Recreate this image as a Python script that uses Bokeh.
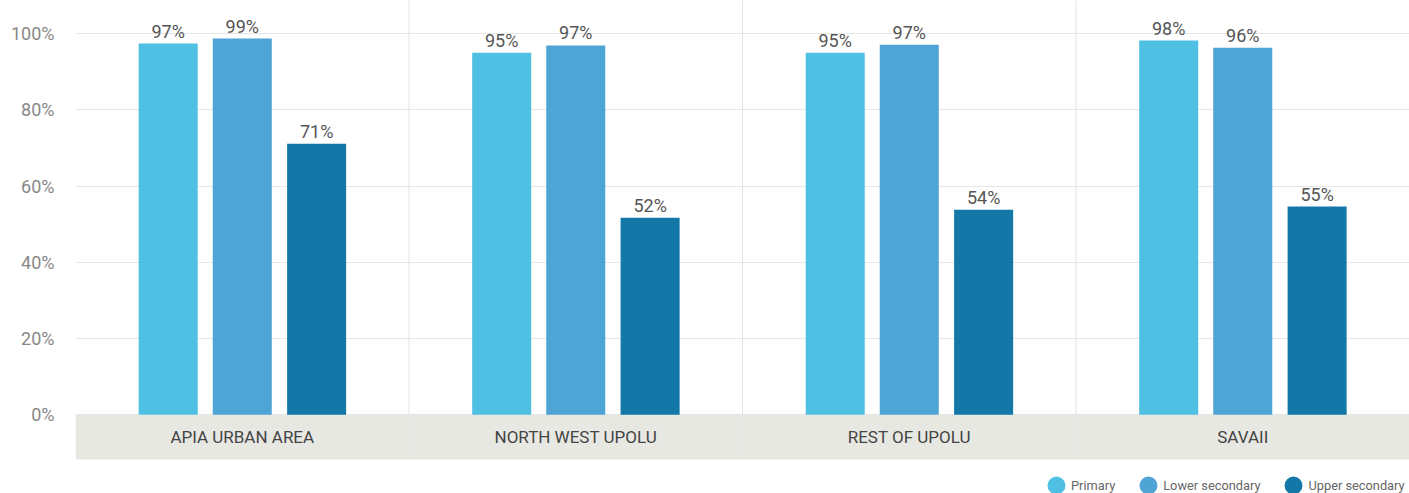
from bokeh.plotting import figure
from bokeh.models import ColumnDataSource, FixedTicker, CustomJSTickFormatter, Legend, LegendItem
from bokeh.transform import dodge
from bokeh.core.properties import value
from bokeh.embed import file_html
from bokeh.resources import INLINE

categories = ["APIA URBAN AREA", "NORTH WEST UPOLU", "REST OF UPOLU", "SAVAII"]
primary = [97.4, 95.0, 95.0, 98.2]
lower_secondary = [98.7, 96.9, 97.1, 96.3]
upper_secondary = [71.1, 51.7, 53.8, 54.6]
primary_labels = ["97%", "95%", "95%", "98%"]
lower_labels = ["99%", "97%", "97%", "96%"]
upper_labels = ["71%", "52%", "54%", "55%"]
series_names = ["Primary", "Lower secondary", "Upper secondary"]
y_ticks = [0, 20, 40, 60, 80, 100]

FONT = "Roboto"
colors = ["#4fc0e4", "#4ea4d4", "#1378a8"]

xc = [i + 0.5 for i in range(len(categories))]
src = ColumnDataSource(dict(
    x=xc, cat=categories,
    p=primary, l=lower_secondary, u=upper_secondary,
    pl=primary_labels, ll=lower_labels, ul=upper_labels,
))

p = figure(width=1409, height=493, x_range=(0, len(categories)), y_range=(-20.7, 108.7),
           output_backend="svg", toolbar_location=None,
           min_border_left=75, min_border_right=0, min_border_top=0, min_border_bottom=0)
p.outline_line_color = None
p.xaxis.visible = False
p.xgrid.visible = False
p.ygrid.ticker = FixedTicker(ticks=y_ticks)
p.ygrid.grid_line_color = "#e6e6e6"
p.ygrid.grid_line_width = 1

# category band
p.quad(left=0, right=len(categories), bottom=-11.8, top=0, fill_color="#e8e8e3", line_color=None)
# vertical separators
bounds = list(range(1, len(categories)))
p.segment(x0=bounds, x1=bounds, y0=[-11.8] * len(bounds), y1=[108.7] * len(bounds),
          line_color="#e4e4e2", line_width=1)

offs = [-0.222, 0.0, 0.223]
cols = ["p", "l", "u"]
lcols = ["pl", "ll", "ul"]
for off, c, lc, col in zip(offs, cols, lcols, colors):
    p.vbar(x=dodge("x", off, range=p.x_range), top=c, width=0.177, bottom=0,
           source=src, fill_color=col, line_color=None)
    p.text(x=dodge("x", off, range=p.x_range), y=c, text=lc, source=src,
           text_align="center", text_baseline="bottom", y_offset=-2,
           text_font=value(FONT), text_font_size="18px", text_color="#555555")

p.text(x="x", y=-5.9, text="cat", source=src, text_align="center", text_baseline="middle",
       text_font=value(FONT), text_font_size="17px", text_color="#444444")

p.yaxis.ticker = FixedTicker(ticks=y_ticks)
p.yaxis.formatter = CustomJSTickFormatter(code="return tick + '%';")
p.yaxis.axis_line_color = None
p.yaxis.major_tick_line_color = None
p.yaxis.minor_tick_line_color = None
p.yaxis.major_label_standoff = 15
p.yaxis.major_label_text_font = FONT
p.yaxis.major_label_text_font_size = "18px"
p.yaxis.major_label_text_color = "#888888"

# legend (markers kept outside the visible range; only their legend glyphs show)
items = []
for name, col in zip(series_names, colors):
    s = p.scatter(x=[0.5], y=[-1000], marker="circle", size=12, fill_color=col,
                  line_color=col, line_width=6)
    items.append(LegendItem(label=name, renderers=[s]))
leg = Legend(items=items, orientation="horizontal", location=(966, -7),
             label_text_font=FONT, label_text_font_size="12.8px", label_text_color="#666666",
             glyph_width=30, glyph_height=30, spacing=18, label_standoff=0,
             border_line_color=None, background_fill_alpha=0, margin=0, padding=0)
p.add_layout(leg)

open("out.html", "w").write(file_html(p, INLINE))
